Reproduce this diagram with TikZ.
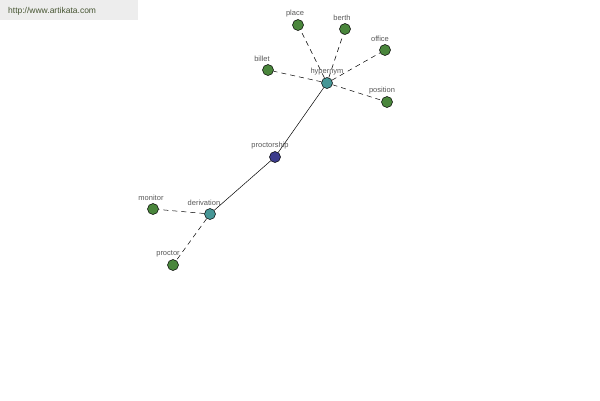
\documentclass[tikz,border=0pt]{standalone}
\usepackage{fontspec}
\setmainfont{Liberation Sans}
\definecolor{leafc}{RGB}{74,134,60}
\definecolor{hubc}{RGB}{70,150,150}
\definecolor{corec}{RGB}{60,60,140}
\definecolor{wmtext}{RGB}{70,85,50}
\begin{document}
\begin{tikzpicture}[x=1pt,y=-1pt,
  dot/.style={circle,draw=black,line width=0.5pt,inner sep=0pt,minimum size=11pt},
  leaf/.style={dot,fill=leafc},
  hub/.style={dot,fill=hubc},
  core/.style={dot,fill=corec},
  lbl/.style={font=\fontsize{7.5}{8}\selectfont,text=black!65,inner sep=0pt},
  rel/.style={dashed,dash pattern=on 5pt off 4pt,line width=0.5pt},
  link/.style={line width=0.5pt}]
\fill[white] (0,0) rectangle (600,400);
\useasboundingbox (0,0) rectangle (600,400);
\fill[black!7] (0,0) rectangle (138,20);
\node[font=\fontsize{8.5}{9}\selectfont,text=wmtext,anchor=west,inner sep=0pt] (wm) at (8,11) {http://www.artikata.com};
% nodes
\node[hub] (hyp) at (327,83) {};
\node[core] (ps) at (275,157) {};
\node[hub] (der) at (210,214) {};
\node[leaf] (mon) at (153,209) {};
\node[leaf] (pro) at (173,265) {};
\node[leaf] (bil) at (268,70) {};
\node[leaf] (pla) at (298,25) {};
\node[leaf] (ber) at (345,29) {};
\node[leaf] (off) at (385,50) {};
\node[leaf] (pos) at (387,102) {};
% edges
\draw[link] (hyp) -- (ps);
\draw[link] (ps) -- (der);
\draw[rel] (hyp) -- (bil);
\draw[rel] (hyp) -- (pla);
\draw[rel] (hyp) -- (ber);
\draw[rel] (hyp) -- (off);
\draw[rel] (hyp) -- (pos);
\draw[rel] (der) -- (mon);
\draw[rel] (der) -- (pro);
% labels
\node[lbl] (lhyp) at (327,72) {hypernym};
\node[lbl] (lps) at (270,146) {proctorship};
\node[lbl] (lder) at (204,203) {derivation};
\node[lbl] (lmon) at (151,198) {monitor};
\node[lbl] (lpro) at (168,254) {proctor};
\node[lbl] (lbil) at (262,59) {billet};
\node[lbl] (lpla) at (295,14) {place};
\node[lbl] (lber) at (342,18) {berth};
\node[lbl] (loff) at (380,39) {office};
\node[lbl] (lpos) at (382,91) {position};
\end{tikzpicture}
\end{document}
